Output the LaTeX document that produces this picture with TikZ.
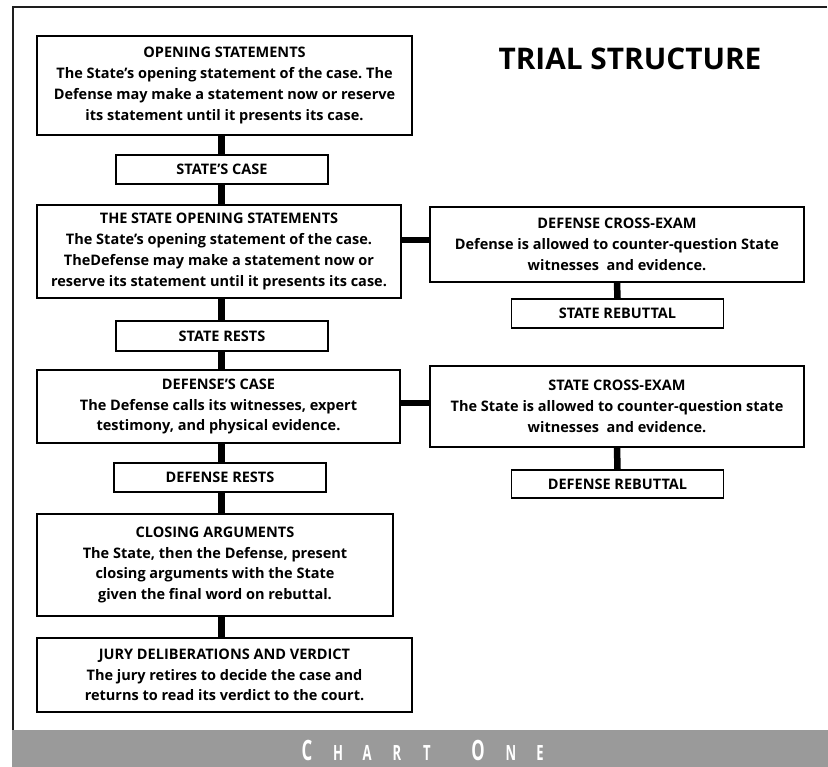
\documentclass[tikz,border=0pt]{standalone}
\usepackage{fontspec}
\setmainfont{Open Sans}
\frenchspacing
\newcommand\trialbody{\bfseries\fontsize{14.5}{20.7}\selectfont}
\newcommand\trialtitle{\bfseries\fontsize{29.8}{34}\selectfont}
\newcommand\bigletter[1]{\scalebox{0.6}[1]{\bfseries\fontsize{28}{28}\selectfont #1}}
\newcommand\smallletter[1]{\scalebox{0.62}[1]{\bfseries\fontsize{21}{21}\selectfont #1}}
\definecolor{footergray}{RGB}{154,154,154}
\definecolor{framegray}{RGB}{30,30,30}
\begin{document}
\begin{tikzpicture}[x=1pt,y=-1pt,
  box/.style={draw=black, line width=1.6pt, fill=white, align=center,
              inner sep=0pt, font=\trialbody},
  conn/.style={line width=6.5pt, black},
  footletter/.style={text=white, anchor=base, inner sep=0pt}]
\useasboundingbox (0,0) rectangle (828,767);

% page frame and footer band
\fill[footergray] (12,730) rectangle (828,767);
\draw[framegray, line width=2pt] (827,7.5) -- (12.5,7.5) -- (12.5,730);

% title
\node[font=\trialtitle, anchor=base] (title) at (630,70) {TRIAL STRUCTURE};

% main sequence
\node[box, minimum width=375pt, minimum height=99pt] (b1) at (224.5,85.5)
  {OPENING STATEMENTS\\The State’s opening statement of the case. The\\
   Defense may make a statement now or reserve\\its statement until it presents its case.};
\node[box, minimum width=212pt, minimum height=29pt] (b2) at (222,169.5) {STATE’S CASE};
\node[box, minimum width=364pt, minimum height=93pt] (b3) at (219,251.5)
  {THE STATE OPENING STATEMENTS\\The State’s opening statement of the case.\\
   TheDefense may make a statement now or\\reserve its statement until it presents its case.};
\node[box, minimum width=212pt, minimum height=30pt] (b4) at (222,336) {STATE RESTS};
\node[box, minimum width=363pt, minimum height=73pt] (b5) at (218.5,406.5)
  {DEFENSE’S CASE\\The Defense calls its witnesses, expert\\testimony, and physical evidence.};
\node[box, minimum width=212pt, minimum height=29pt] (b6) at (220,477.5) {DEFENSE RESTS};
\node[box, minimum width=356pt, minimum height=102pt] (b7) at (215,565)
  {CLOSING ARGUMENTS\\The State, then the Defense, present\\closing arguments with the State\\
   given the final word on rebuttal.};
\node[box, minimum width=375pt, minimum height=74pt] (b8) at (224.5,675)
  {JURY DELIBERATIONS AND VERDICT\\The jury retires to decide the case and\\
   returns to read its verdict to the court.};

% side branches
\node[box, minimum width=374pt, minimum height=75pt] (dcx) at (617,244.5)
  {DEFENSE CROSS-EXAM\\Defense is allowed to counter-question State\\witnesses\ \ and evidence.};
\node[box, minimum width=212pt, minimum height=29pt] (srb) at (617.5,313.5) {STATE REBUTTAL};
\node[box, minimum width=374pt, minimum height=81pt] (scx) at (617,406.5)
  {STATE CROSS-EXAM\\The State is allowed to counter-question state\\witnesses\ \ and evidence.};
\node[box, minimum width=212pt, minimum height=28pt] (drb) at (617.5,484) {DEFENSE REBUTTAL};

% connectors
\coordinate (spine) at (221.5,0);
\draw[conn] (b1.south -| spine) -- (b2.north -| spine);
\draw[conn] (b2.south -| spine) -- (b3.north -| spine);
\draw[conn] (b3.south -| spine) -- (b4.north -| spine);
\draw[conn] (b4.south -| spine) -- (b5.north -| spine);
\draw[conn] (b5.south -| spine) -- (b6.north -| spine);
\draw[conn] (b6.south -| spine) -- (b7.north -| spine);
\draw[conn] (b7.south -| spine) -- (b8.north -| spine);
\coordinate (branchA) at (0,240);
\coordinate (branchB) at (0,403);
\draw[conn] (b3.east |- branchA) -- (dcx.west |- branchA);
\draw[conn] (b5.east |- branchB) -- (scx.west |- branchB);
\draw[conn] (dcx.south) -- (srb.north);
\draw[conn] (scx.south) -- (drb.north);

% footer caption
\node[footletter] (f1) at (307,760) {\bigletter{C}};
\node[footletter] (f2) at (338,760) {\smallletter{H}};
\node[footletter] (f3) at (367,760) {\smallletter{A}};
\node[footletter] (f4) at (397,760) {\smallletter{R}};
\node[footletter] (f5) at (427,760) {\smallletter{T}};
\node[footletter] (f6) at (478,760) {\bigletter{O}};
\node[footletter] (f7) at (511,760) {\smallletter{N}};
\node[footletter] (f8) at (540,760) {\smallletter{E}};
\end{tikzpicture}
\end{document}
